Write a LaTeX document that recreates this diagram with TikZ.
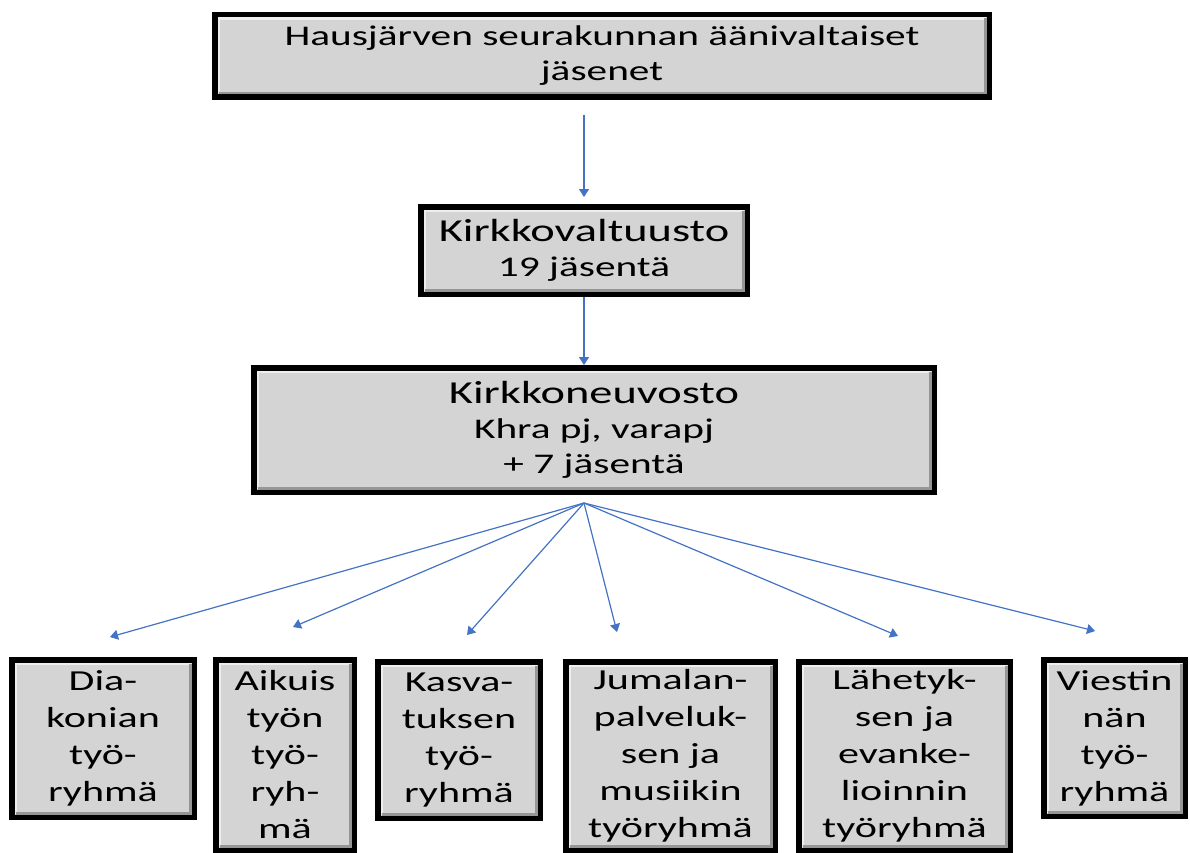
\documentclass[tikz,border=0pt]{standalone}
\usepackage{fontspec}
\setmainfont{Carlito}[FakeStretch=1.45]
\usetikzlibrary{arrows.meta}
\definecolor{orgfill}{RGB}{212, 212, 212}
\definecolor{orglight}{RGB}{238, 238, 238}
\definecolor{orgdark}{RGB}{150, 150, 150}
\definecolor{orgblue}{RGB}{68, 114, 196}

\begin{document}
\begin{tikzpicture}[x=1pt, y=-1pt,
  bevel/.style={path picture={
    \draw[orglight, line width=2.5pt]
      ([xshift=3.75pt, yshift=3.75pt]path picture bounding box.south west)
      |- ([xshift=-3.75pt, yshift=-3.75pt]path picture bounding box.north east);
    \draw[orgdark, line width=2.5pt]
      ([xshift=3.75pt, yshift=3.75pt]path picture bounding box.south west)
      -| ([xshift=-3.75pt, yshift=-3.75pt]path picture bounding box.north east);}},
  orgbox/.style={draw=black, line width=5.5pt, fill=orgfill, bevel, align=center,
    inner sep=0pt, font=\fontsize{28.5}{35}\selectfont},
  groupbox/.style={orgbox, font=\fontsize{29}{37}\selectfont},
  link/.style={orgblue, line width=1.2pt, -{Triangle[width=10pt, length=8pt]}}]
  \useasboundingbox (0,0) rectangle (1190,853);

  % Members and councils
  \node[orgbox, minimum width=774.5pt, minimum height=82.5pt] (hausj) at (602,56)
    {Hausjärven seurakunnan äänivaltaiset\\jäsenet};
  \node[orgbox, minimum width=326.5pt, minimum height=87.5pt] (valt) at (584,250.5)
    {{\fontsize{32}{38}\selectfont Kirkkovaltuusto}\\19 jäsentä};
  \node[orgbox, minimum width=680.5pt, minimum height=124.5pt] (neuvosto) at (594,430)
    {{\fontsize{32}{40}\selectfont Kirkkoneuvosto}\\Khra pj, varapj\\+ 7 jäsentä};

  % Working groups
  \node[groupbox, minimum width=182.5pt, minimum height=157.5pt] (diak) at (103,738.5)
    {Dia-\\konian\\työ-\\ryhmä};
  \node[groupbox, minimum width=138.5pt, minimum height=190.5pt] (aikuis) at (285,755)
    {Aikuis\\työn\\työ-\\ryh-\\mä};
  \node[groupbox, minimum width=162.5pt, minimum height=156.5pt] (kasva) at (459,740)
    {Kasva-\\tuksen\\työ-\\ryhmä};
  \node[groupbox, minimum width=209.5pt, minimum height=188.5pt] (jumal) at (670.5,756)
    {Jumalan-\\palveluk-\\sen ja\\musiikin\\työryhmä};
  \node[groupbox, minimum width=211.5pt, minimum height=188.5pt] (lahet) at (904.5,756)
    {Lähetyk-\\sen ja\\evanke-\\lioinnin\\työryhmä};
  \node[groupbox, minimum width=141.5pt, minimum height=156.5pt] (viest) at (1114.5,738)
    {Viestin\\nän\\työ-\\ryhmä};

  % Vertical arrows
  \draw[link, shorten <=15pt, shorten >=7pt] (hausj.south -| valt.north) -- (valt.north);
  \draw[link] (valt.south) -- (valt.south |- neuvosto.north);

  % Fan to the working groups
  \coordinate (fan) at (584,503);
  \coordinate (tdiak) at (110,637);
  \coordinate (taikuis) at (293,627);
  \coordinate (tkasva) at (467,635);
  \coordinate (tjumal) at (617,632);
  \coordinate (tlahet) at (898,636);
  \coordinate (tviest) at (1095,631);
  \foreach \t in {tdiak, taikuis, tkasva, tjumal, tlahet, tviest}
    \draw[link] (fan) -- (\t);
\end{tikzpicture}
\end{document}
